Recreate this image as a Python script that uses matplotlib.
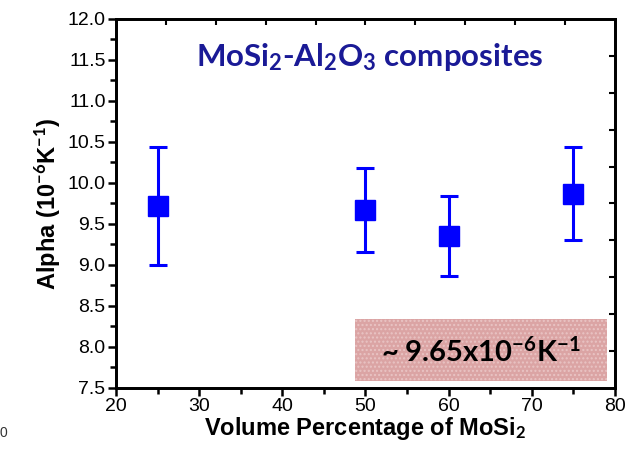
import matplotlib
matplotlib.use("Agg")
import matplotlib.pyplot as plt
from matplotlib.patches import Rectangle

vol_pct = [25, 50, 60, 75]
alpha = [9.72, 9.67, 9.35, 9.87]
alpha_err = [0.72, 0.51, 0.49, 0.57]
x_ticks = [20, 30, 40, 50, 60, 70, 80]
y_ticks = [7.5, 8.0, 8.5, 9.0, 9.5, 10.0, 10.5, 11.0, 11.5, 12.0]

plt.rcParams['mathtext.fontset'] = 'custom'
plt.rcParams['mathtext.rm'] = 'Lato:bold'
plt.rcParams['mathtext.bf'] = 'Lato:bold'
plt.rcParams['mathtext.it'] = 'Lato:bold'
plt.rcParams['mathtext.default'] = 'bf'

fig = plt.figure(figsize=(6.39, 4.51), dpi=100)
ax = fig.add_axes([0.1815, 0.1397, 0.7809, 0.8182])

ax.errorbar(vol_pct, alpha, yerr=alpha_err, fmt='s', color='#0000ff',
            markersize=15, elinewidth=2.2, capsize=6.5, capthick=2.2,
            markeredgecolor='#0000ff', zorder=3)

ax.set_xlim(20, 80)
ax.set_ylim(7.5, 12.0)
ax.set_xticks(x_ticks)
ax.set_xticks(range(25, 80, 10), minor=True)
ax.set_yticks(y_ticks)
ax.set_yticks([7.75 + 0.5 * i for i in range(9)], minor=True)
ax.set_yticklabels([f"{v:.1f}" for v in y_ticks])

for lab in ax.get_xticklabels() + ax.get_yticklabels():
    lab.set_family('Liberation Sans')
    lab.set_fontsize(14)

ax.tick_params(which='major', direction='out', length=6, width=1.8, pad=1.5)
ax.tick_params(which='minor', direction='out', length=4, width=1.8)
for s in ax.spines.values():
    s.set_linewidth(1.8)

# top and right tick marks (independent divisions, inward)
axt = ax.twiny()
axt.set_xlim(0, 10)
axt.set_xticks(range(1, 10))
axt.tick_params(axis='x', direction='in', length=4, width=1.5, labeltop=False)
axr = ax.twinx()
axr.set_ylim(0, 10)
axr.set_yticks(range(1, 10))
axr.tick_params(axis='y', direction='in', length=4, width=1.5, labelright=False)
for a in (axt, axr):
    for s in a.spines.values():
        s.set_linewidth(1.8)

ax.set_xlabel("Volume Percentage of MoSi$_2$", family='Liberation Sans',
              fontweight='bold', fontsize=17, labelpad=0)
ax.set_ylabel("Alpha (10$^{-6}$K$^{-1}$)", family='Liberation Sans',
              fontweight='bold', fontsize=17, labelpad=3)

ax.text(50.5, 11.43, "MoSi$_2$-Al$_2$O$_3$ composites", family='Lato',
        fontweight='bold', fontsize=22.5, color='#1a1a96', ha='center', va='baseline')

box = Rectangle((48.7, 7.585), 30.4, 0.755, facecolor='#dba4a4',
                edgecolor='#e9c4c4', hatch='....', linewidth=0, zorder=2)
ax.add_patch(box)
ax.text(63.9, 7.82, "~ 9.65x10$^{-6}$K$^{-1}$", family='Lato', fontweight='bold',
        fontsize=21, color='black', ha='center', va='baseline', zorder=4)

fig.text(0.0, 0.03, "0", family='Liberation Sans', fontsize=10, color='#333333',
         ha='left', va='baseline')

fig.savefig("out.png", dpi=100)
